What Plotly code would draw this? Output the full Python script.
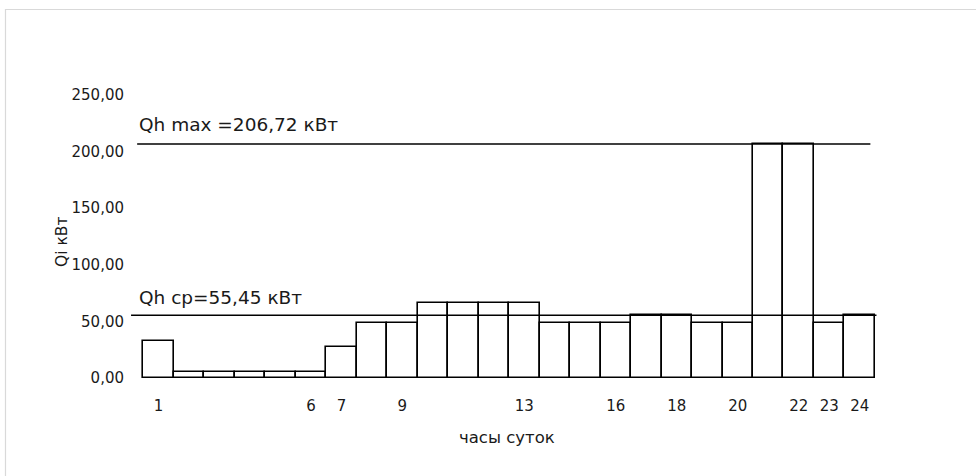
import plotly.graph_objects as go

hours = list(range(1, 25))
heat_kw = [33, 5, 5, 5, 5, 5, 27.5, 48.5, 48.5, 66, 66, 66, 66,
           48.5, 48.5, 48.5, 55.45, 55.45, 48.5, 48.5, 206.72, 206.72, 48.5, 55.45]
q_max = 206.72
q_avg = 55.45
x_tick_vals = [1, 6, 7, 9, 13, 16, 18, 20, 22, 23, 24]
y_tick_vals = [0, 50, 100, 150, 200, 250]
label_max = "Qh max =206,72 кВт"
label_avg = "Qh ср=55,45 кВт"
x_title = "часы суток"
y_title = "Qi кВт"

W, H = 976, 476
L, T = 128, 95
pw, ph = 750, 283
R = W - L - pw
B = H - T - ph

def px_to_paper_x(vx):
    return (vx - L) / pw

def py_to_paper_y(vy):
    return (T + ph - vy) / ph

FONT = "DejaVu Sans"
TXT = "#1a1a1a"

fig = go.Figure()
fig.add_trace(go.Bar(
    x=hours, y=heat_kw, width=1.0,
    marker=dict(color="white", line=dict(color="black", width=1.6)),
    hoverinfo="x+y",
))

shapes = [
    dict(type="line", xref="x", yref="y", x0=0.5, x1=24.5, y0=0, y1=0,
         line=dict(color="#d4d4d4", width=1.5), layer="below"),
    dict(type="line", xref="x", yref="y", x0=0.3, x1=24.35, y0=q_max, y1=q_max,
         line=dict(color="black", width=1.6)),
    dict(type="line", xref="x", yref="y", x0=0.1, x1=24.55, y0=q_avg, y1=q_avg,
         line=dict(color="black", width=1.6)),
    dict(type="rect", xref="paper", yref="paper",
         x0=px_to_paper_x(5.5), x1=px_to_paper_x(1000),
         y0=py_to_paper_y(500), y1=py_to_paper_y(9.5),
         line=dict(color="#d9d9d9", width=1.2), layer="below"),
]

annotations = [
    dict(x=0.28, y=q_max, xref="x", yref="y", text=label_max, showarrow=False,
         xanchor="left", yanchor="bottom", yshift=7,
         font=dict(family=FONT, size=18.5, color=TXT)),
    dict(x=0.28, y=q_avg, xref="x", yref="y", text=label_avg, showarrow=False,
         xanchor="left", yanchor="bottom", yshift=5,
         font=dict(family=FONT, size=18.5, color=TXT)),
    dict(x=px_to_paper_x(507), y=py_to_paper_y(437), xref="paper", yref="paper",
         text=x_title, showarrow=False, xanchor="center", yanchor="middle",
         font=dict(family=FONT, size=16.5, color=TXT)),
    dict(x=px_to_paper_x(62), y=py_to_paper_y(242), xref="paper", yref="paper",
         text=y_title, showarrow=False, xanchor="center", yanchor="middle",
         textangle=-90, font=dict(family=FONT, size=15.5, color=TXT)),
]

fig.update_layout(
    width=W, height=H,
    margin=dict(l=L, r=R, t=T, b=B, pad=0),
    paper_bgcolor="white", plot_bgcolor="white",
    separators=", ",
    showlegend=False,
    bargap=0,
    shapes=shapes,
    annotations=annotations,
    font=dict(family=FONT, size=15, color=TXT),
)
fig.update_xaxes(
    range=[0, 24.6], tickmode="array", tickvals=x_tick_vals,
    showgrid=False, zeroline=False, showline=False, ticks="",
    ticklabelstandoff=17, tickfont=dict(family=FONT, size=15, color=TXT),
)
fig.update_yaxes(
    range=[0, 250], tickmode="array", tickvals=y_tick_vals, tickformat=".2f",
    showgrid=False, zeroline=False, showline=False, ticks="",
    ticklabelstandoff=3, tickfont=dict(family=FONT, size=15, color=TXT),
)

fig.write_html("out.html",
               config={"displayModeBar": False},
               post_script="document.body.style.margin='0';document.body.style.overflow='hidden';")
